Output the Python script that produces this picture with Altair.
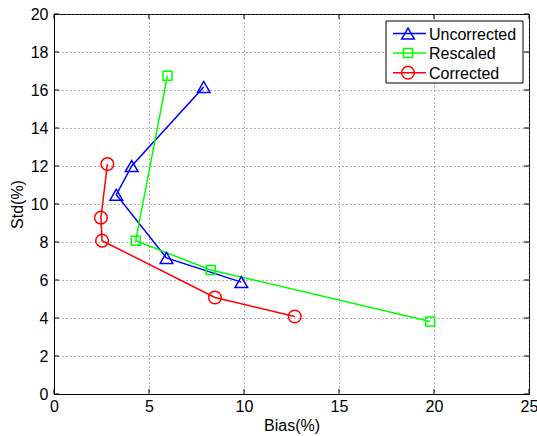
import altair as alt
import pandas as pd

series = ["Uncorrected", "Rescaled", "Corrected"]
colors = ["#0000ff", "#00ff00", "#ff0000"]
shapes = ["triangle-up", "square", "circle"]
sizes = [160, 81, 160]

unc_bias = [7.88, 4.09, 3.28, 5.92, 9.86]
unc_std = [16.16, 12.0, 10.49, 7.16, 5.89]
res_bias = [5.97, 4.3, 8.25, 19.8]
res_std = [16.75, 8.07, 6.53, 3.82]
cor_bias = [2.81, 2.47, 2.53, 8.47, 12.67]
cor_std = [12.1, 9.28, 8.07, 5.08, 4.08]

x_ticks = [0, 5, 10, 15, 20, 25]
y_ticks = [0, 2, 4, 6, 8, 10, 12, 14, 16, 18, 20]

W, H = 475, 380
FONT = "Liberation Sans"

rows = []
for name, bx, sy in zip(series, [unc_bias, res_bias, cor_bias], [unc_std, res_std, cor_std]):
    for i, (b, s) in enumerate(zip(bx, sy)):
        rows.append({"series": name, "bias": b, "std": s, "order": i})
df = pd.DataFrame(rows)

X = alt.X("bias:Q", scale=alt.Scale(domain=[0, 25], nice=False, zero=False),
          axis=alt.Axis(values=x_ticks, title="Bias(%)", grid=True, gridDash=[1, 3],
                        gridColor="#666666", gridWidth=1, ticks=False, labelPadding=4,
                        titlePadding=3, labelFlush=False, labelOverlap=False))
Y = alt.Y("std:Q", scale=alt.Scale(domain=[0, 20], nice=False, zero=False),
          axis=alt.Axis(values=y_ticks, title="Std(%)", grid=True, gridDash=[1, 3],
                        gridColor="#666666", gridWidth=1, ticks=False, labelPadding=6,
                        titlePadding=5, labelFlush=False, labelOverlap=False))

layers = []
layers.append(
    alt.Chart(df).mark_line(strokeWidth=1.5).encode(
        x=X, y=Y,
        color=alt.Color("series:N", scale=alt.Scale(domain=series, range=colors), legend=None),
        order="order:Q", detail="series:N")
)
for name, c, sh, sz in zip(series, colors, shapes, sizes):
    layers.append(
        alt.Chart(df[df.series == name]).mark_point(
            shape=sh, size=sz, filled=False, strokeWidth=1.5, color=c, opacity=1
        ).encode(x=X, y=Y)
    )

# inward ticks (MATLAB style box)
xt = pd.DataFrame({"bias": x_ticks})
yt = pd.DataFrame({"std": y_ticks})
layers.append(alt.Chart(xt).mark_rule(color="black").encode(x=X, y=alt.value(H), y2=alt.value(H - 5)))
layers.append(alt.Chart(xt).mark_rule(color="black").encode(x=X, y=alt.value(0), y2=alt.value(5)))
layers.append(alt.Chart(yt).mark_rule(color="black").encode(y=Y, x=alt.value(0), x2=alt.value(5)))
layers.append(alt.Chart(yt).mark_rule(color="black").encode(y=Y, x=alt.value(W), x2=alt.value(W - 5)))

# legend box
one = pd.DataFrame({"a": [0]})
layers.append(alt.Chart(one).mark_rect(fill="white", stroke="black", strokeWidth=1).encode(
    x=alt.value(332), x2=alt.value(469), y=alt.value(7), y2=alt.value(69)))
for i, (name, c, sh, sz) in enumerate(zip(series, colors, shapes, sizes)):
    yy = 19.5 + 19.6 * i
    layers.append(alt.Chart(one).mark_rule(color=c, strokeWidth=1.5).encode(
        x=alt.value(339), x2=alt.value(372), y=alt.value(yy)))
    layers.append(alt.Chart(one).mark_point(shape=sh, size=sz, filled=False, strokeWidth=1.5,
                                            color=c, opacity=1).encode(
        x=alt.value(354), y=alt.value(yy)))
    layers.append(alt.Chart(pd.DataFrame({"t": [name]})).mark_text(
        align="left", baseline="middle", font=FONT, fontSize=16, color="black").encode(
        x=alt.value(375), y=alt.value(yy + 1), text="t:N"))

chart = alt.layer(*layers).properties(
    width=W, height=H,
    autosize=alt.AutoSizeParams(type="none"),
    padding={"left": 54, "top": 14, "right": 8, "bottom": 42},
    background="white",
).configure_view(stroke="black", strokeWidth=1).configure_axis(
    labelFont=FONT, labelFontSize=16, labelColor="black",
    titleFont=FONT, titleFontSize=16, titleColor="black", titleFontWeight="normal",
    domainColor="black", domainWidth=1,
)

chart.save("out.html", embed_options={"renderer": "svg", "actions": False})
